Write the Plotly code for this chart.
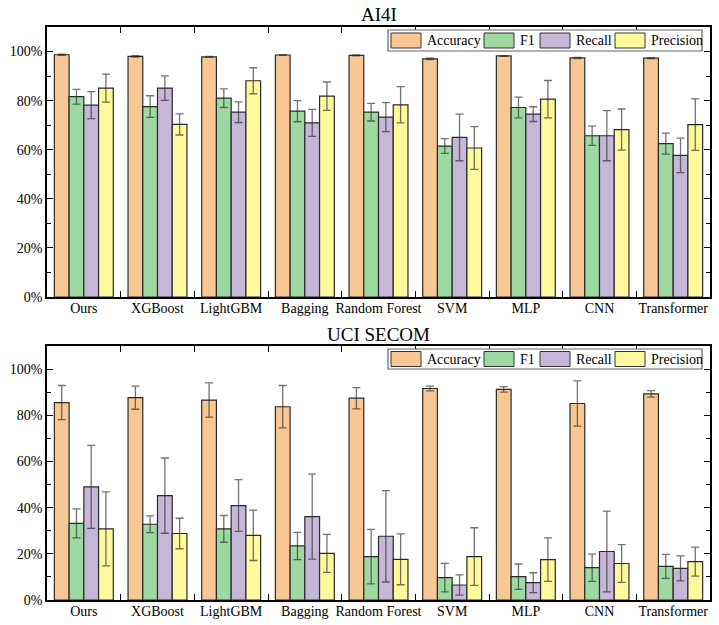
import plotly.graph_objects as go
from plotly.subplots import make_subplots

categories = ["Ours", "XGBoost", "LightGBM", "Bagging", "Random Forest", "SVM", "MLP", "CNN", "Transformer"]
metrics = ["Accuracy", "F1", "Recall", "Precision"]
colors = ["#F9C794", "#9DD9A0", "#C6B6D8", "#FDF99C"]

# AI4I (percent)
ai4i_acc = [98.7, 98.0, 97.8, 98.6, 98.4, 97.0, 98.2, 97.4, 97.3]
ai4i_acc_err = [0.2, 0.3, 0.2, 0.15, 0.2, 0.3, 0.15, 0.25, 0.2]
ai4i_f1 = [81.6, 77.6, 81.0, 75.7, 75.3, 61.5, 77.2, 65.7, 62.5]
ai4i_f1_err = [3.0, 4.4, 3.8, 4.3, 3.6, 3.0, 4.2, 3.9, 4.3]
ai4i_rec = [78.2, 85.1, 75.3, 70.9, 73.3, 65.0, 74.5, 65.7, 57.7]
ai4i_rec_err = [5.5, 5.0, 4.2, 5.5, 5.9, 9.5, 3.0, 10.2, 7.0]
ai4i_pre = [85.1, 70.3, 88.1, 81.8, 78.3, 60.7, 80.6, 68.2, 70.2]
ai4i_pre_err = [5.7, 4.3, 5.3, 5.8, 7.4, 8.7, 7.6, 8.4, 10.5]

# UCI SECOM (percent)
secom_acc = [85.5, 87.6, 86.6, 83.7, 87.4, 91.6, 91.2, 85.1, 89.3]
secom_acc_err = [7.4, 5.0, 7.4, 9.2, 4.6, 1.0, 1.2, 9.8, 1.4]
secom_f1 = [33.2, 32.8, 30.8, 23.4, 18.8, 9.7, 10.1, 14.0, 14.6]
secom_f1_err = [6.3, 3.6, 5.8, 5.9, 11.8, 6.2, 5.5, 5.9, 5.2]
secom_rec = [49.0, 45.2, 40.9, 36.1, 27.6, 6.5, 7.5, 21.0, 13.7]
secom_rec_err = [18.0, 16.3, 11.2, 18.4, 19.8, 4.4, 4.3, 17.5, 5.4]
secom_pre = [30.8, 28.8, 28.0, 20.2, 17.6, 18.8, 17.5, 15.8, 16.6]
secom_pre_err = [16.0, 6.6, 10.9, 8.2, 11.0, 12.5, 9.4, 8.2, 6.3]

panel_titles = ["AI4I", "UCI SECOM"]
y_ticks = [0, 20, 40, 60, 80, 100]
y_tick_labels = ["0%", "20%", "40%", "60%", "80%", "100%"]

FONT = "Liberation Serif"
W, H = 719, 625
ML, MR, MT, MB = 47, 9, 27, 25
PW, PH = W - ML - MR, H - MT - MB


def px_x(px):
    return (px - ML) / PW


def px_y(py):
    return (H - MB - py) / PH


fig = make_subplots(rows=2, cols=1)

panels = [
    ([ai4i_acc, ai4i_f1, ai4i_rec, ai4i_pre], [ai4i_acc_err, ai4i_f1_err, ai4i_rec_err, ai4i_pre_err]),
    ([secom_acc, secom_f1, secom_rec, secom_pre], [secom_acc_err, secom_f1_err, secom_rec_err, secom_pre_err]),
]

for r, (vals, errs) in enumerate(panels, start=1):
    for name, v, e, c in zip(metrics, vals, errs, colors):
        fig.add_trace(go.Bar(
            x=categories, y=v, name=name, showlegend=False,
            marker=dict(color=c, line=dict(color="#2a2a2a", width=1.2)),
            error_y=dict(type="data", array=e, visible=True,
                         color="rgba(40,40,40,0.65)", thickness=1.3, width=4),
        ), row=r, col=1)

axis_common = dict(showline=True, linecolor="black", linewidth=1.5, mirror="ticks",
                   ticks="inside", tickcolor="black", tickwidth=1.3,
                   showgrid=False, zeroline=False, automargin=False)

domains = [[px_y(297), px_y(27)], [px_y(600), px_y(346)]]
for r in (1, 2):
    fig.update_xaxes(tickson="boundaries", ticklen=6, tickangle=0, ticklabelstandoff=-3,
                     tickfont=dict(family=FONT, size=14, color="black"),
                     row=r, col=1, **axis_common)
    fig.update_yaxes(range=[0, 110], tickvals=y_ticks, ticktext=y_tick_labels, ticklen=6,
                     domain=domains[r - 1],
                     minor=dict(tickvals=[10, 30, 50, 70, 90, 110], ticklen=4, ticks="inside",
                                tickcolor="black", tickwidth=1.3),
                     tickfont=dict(family=FONT, size=14, color="black"),
                     row=r, col=1, **axis_common)

# custom legends (layout decoration)
shapes = []
annotations = []
legend_boxes = [(30, 51), (349, 369)]
swatch_x = [391, 484, 540, 615]
for (top, bot) in legend_boxes:
    shapes.append(dict(type="rect", xref="paper", yref="paper",
                       x0=px_x(388), x1=px_x(702), y0=px_y(bot), y1=px_y(top),
                       fillcolor="white", line=dict(color="#666", width=1.2), layer="above"))
    mid = (top + bot) / 2
    for name, c, sx in zip(metrics, colors, swatch_x):
        shapes.append(dict(type="rect", xref="paper", yref="paper",
                           x0=px_x(sx), x1=px_x(sx + 30), y0=px_y(mid + 7.5), y1=px_y(mid - 7.5),
                           fillcolor=c, line=dict(color="#333", width=1), layer="above"))
        annotations.append(dict(text=name, x=px_x(sx + 34), y=px_y(mid), xref="paper", yref="paper",
                                xanchor="left", yanchor="middle", showarrow=False,
                                font=dict(family=FONT, size=14, color="black")))

for title, ty in zip(panel_titles, [15, 334]):
    annotations.append(dict(text=title, x=0.5, y=px_y(ty), xref="paper", yref="paper",
                            xanchor="center", yanchor="middle", showarrow=False,
                            font=dict(family=FONT, size=19, color="black")))

fig.update_layout(
    width=W, height=H,
    margin=dict(l=ML, r=MR, t=MT, b=MB),
    plot_bgcolor="white", paper_bgcolor="white",
    barmode="group", bargap=0.2, bargroupgap=0.0,
    font=dict(family=FONT, color="black"),
    showlegend=False,
    shapes=shapes,
    annotations=annotations,
)

fig.write_html("out.html")
